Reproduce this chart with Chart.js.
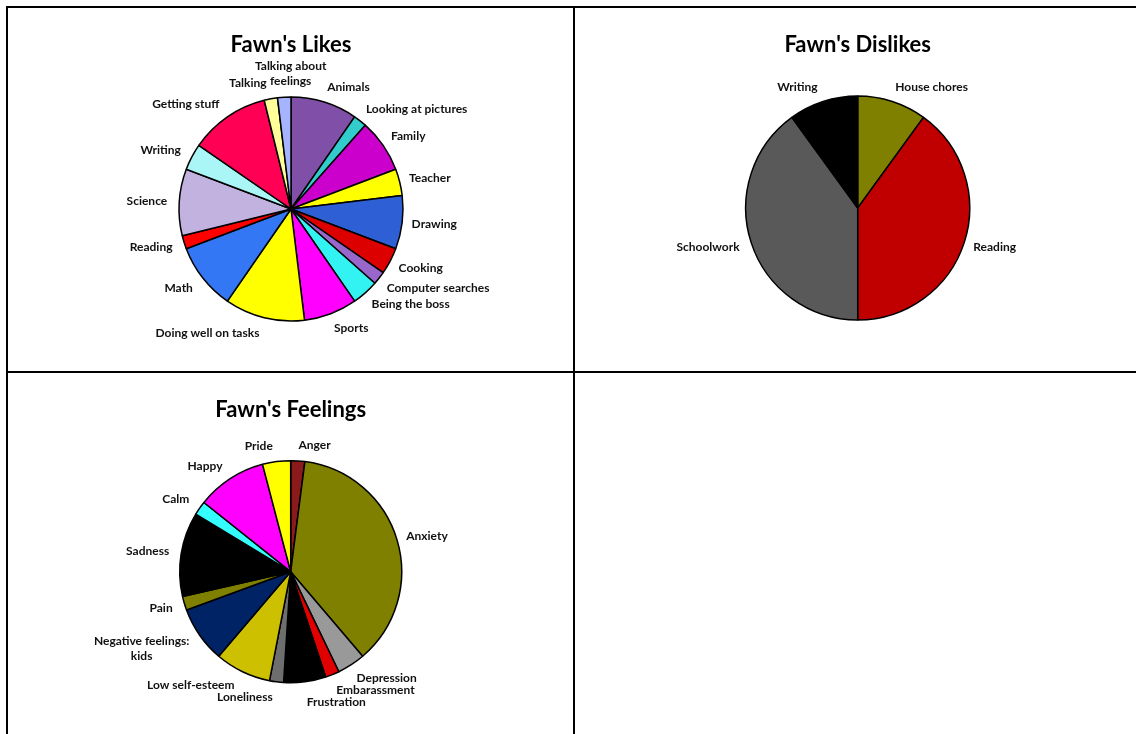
<!DOCTYPE html>
<html>
<head>
<meta charset="utf-8">
<script src="https://cdn.jsdelivr.net/npm/chart.js@4.4.1/dist/chart.umd.min.js"></script>
<style>
  html, body { margin: 0; padding: 0; background: #fff; }
  #page { position: relative; width: 1136px; height: 734px; overflow: hidden; }
  .line { position: absolute; background: #000; }
  canvas { position: absolute; }
</style>
</head>
<body>
<div id="page">
  <div class="line" style="left:6px;top:6px;width:1130px;height:2px"></div>
  <div class="line" style="left:6px;top:6px;width:2px;height:728px"></div>
  <div class="line" style="left:573px;top:6px;width:2px;height:728px"></div>
  <div class="line" style="left:6px;top:371px;width:1130px;height:2px"></div>
  <canvas id="likes" width="565" height="363" style="left:8px;top:8px"></canvas>
  <canvas id="dislikes" width="561" height="363" style="left:575px;top:8px"></canvas>
  <canvas id="feelings" width="565" height="361" style="left:8px;top:373px"></canvas>
</div>
<script>
  // Fawn's Likes
  const likesLabels = ['Animals', 'Looking at pictures', 'Family', 'Teacher', 'Drawing', 'Cooking',
    'Computer searches', 'Being the boss', 'Sports', 'Doing well on tasks', 'Math', 'Reading',
    'Science', 'Writing', 'Getting stuff', 'Talking', ['Talking about', 'feelings']];
  const likesValues = [5, 1, 4, 2, 4, 2, 1, 2, 4, 6, 5, 1, 5, 2, 6, 1, 1];
  const likesColors = ['#8050A8', '#33CCCC', '#CC00CC', '#FFFF00', '#2E5FD4', '#DD0000',
    '#9966CC', '#33F2F2', '#FF00FF', '#FFFF00', '#3377F5', '#FF0000',
    '#C2B2E0', '#AAF5F5', '#FF0055', '#FFFF99', '#A6B4FF'];

  // Fawn's Dislikes
  const dislikesLabels = ['House chores', 'Reading', 'Schoolwork', 'Writing'];
  const dislikesValues = [1, 4, 4, 1];
  const dislikesColors = ['#808000', '#C00000', '#595959', '#000000'];

  // Fawn's Feelings
  const feelingsLabels = ['Anger', 'Anxiety', 'Depression', 'Embarassment', 'Frustration', 'Loneliness',
    'Low self-esteem', ['Negative feelings:', 'kids'], 'Pain', 'Sadness', 'Calm', 'Happy', 'Pride'];
  const feelingsValues = [1, 18, 2, 1, 3, 1, 4, 4, 1, 6, 1, 5, 2];
  const feelingsColors = ['#8B1A1A', '#808000', '#999999', '#E00000', '#000000', '#6E6E6E',
    '#CCC000', '#002366', '#808000', '#000000', '#33FFFF', '#FF00FF', '#FFFF00'];

  const FONT = 'Lato, "Open Sans", sans-serif';
  const BORDER = 1.5;
  const TITLE_SIZE = 22;

  // boxes closer than 3px sideways count as touching
  function overlaps(a, b) {
    return a.x1 - 3 < b.x2 && b.x1 - 3 < a.x2 && a.y1 < b.y2 && b.y1 < a.y2;
  }
  function shift(boxes, mx, my) {
    return boxes.map(b => ({ x1: b.x1 + mx, y1: b.y1 + my, x2: b.x2 + mx, y2: b.y2 + my, text: b.text }));
  }

  // labels outside each slice, like Excel's data labels (nudged when they collide)
  const outsideLabels = {
    id: 'outsideLabels',
    afterDatasetsDraw(chart, args, opts) {
      const ctx = chart.ctx;
      const meta = chart.getDatasetMeta(0);
      const labels = chart.data.labels;
      const placed = [];
      ctx.save();
      ctx.font = opts.font;
      ctx.fillStyle = opts.color;
      ctx.textBaseline = 'middle';
      ctx.textAlign = 'center';
      meta.data.forEach((arc, i) => {
        const p = arc.getProps(['x', 'y', 'startAngle', 'endAngle', 'outerRadius'], true);
        const a = (p.startAngle + p.endAngle) / 2;
        const dx = Math.cos(a), dy = Math.sin(a);
        const r = p.outerRadius + opts.gap;
        const px = p.x + dx * r, py = p.y + dy * r;
        const lines = [].concat(labels[i]);
        const widths = lines.map(l => ctx.measureText(l).width);
        const w = Math.max(...widths);
        const h = (lines.length - 1) * opts.lineHeight + opts.size;
        let left;
        if (dx > 0.062) left = px;
        else if (dx < -0.062) left = px - w - opts.leftExtra;
        else left = px - w / 2;
        const mid = left + w / 2;
        const top = py + dy * h / 2 - h / 2;
        const base = lines.map((l, k) => ({
          x1: mid - widths[k] / 2, x2: mid + widths[k] / 2,
          y1: top + opts.lineHeight * k, y2: top + opts.lineHeight * k + opts.size, text: l
        }));
        // push outward or along the rim until it no longer hits an earlier label
        let boxes = base;
        for (let s = 0; s <= 60; s += 0.5) {
          const cand = [shift(base, dx * s, dy * s), shift(base, -dy * s, dx * s)];
          const ok = cand.find(c => !c.some(b => placed.some(q => overlaps(b, q))));
          if (ok) { boxes = ok; break; }
        }
        boxes.forEach(b => {
          placed.push(b);
          ctx.fillText(b.text, (b.x1 + b.x2) / 2, (b.y1 + b.y2) / 2);
        });
      });
      ctx.restore();
    }
  };

  // cell = canvas box on the page, centre/radius/titleY = where the pie sits on the page
  function makePie(id, title, labels, values, colors, cell, cx, cy, radius, titleY) {
    const side = 2 * radius + BORDER;
    const rx = cx - cell.left, ry = cy - cell.top;
    const lh = TITLE_SIZE * 1.2;
    const titleTop = titleY - cell.top - lh / 2;
    const titleBottom = (ry - side / 2) - (titleY - cell.top + lh / 2);
    return new Chart(document.getElementById(id), {
      type: 'pie',
      data: {
        labels: labels,
        datasets: [{
          data: values,
          backgroundColor: colors,
          borderColor: '#000',
          borderWidth: BORDER,
          hoverOffset: 0
        }]
      },
      options: {
        responsive: false,
        animation: false,
        layout: {
          padding: {
            top: 0,
            left: rx - side / 2,
            right: cell.width - rx - side / 2,
            bottom: cell.height - ry - side / 2
          }
        },
        plugins: {
          legend: { display: false },
          title: {
            display: true,
            text: title,
            color: '#000',
            font: { family: FONT, size: TITLE_SIZE, weight: 'bold' },
            padding: { top: titleTop, bottom: titleBottom }
          },
          outsideLabels: {
            font: 'bold 12px ' + FONT,
            size: 12,
            color: '#111',
            gap: 9.5,
            leftExtra: 2.5,
            lineHeight: 15.6
          }
        }
      },
      plugins: [outsideLabels]
    });
  }

  makePie('likes', "Fawn's Likes", likesLabels, likesValues, likesColors,
    { left: 8, top: 8, width: 565, height: 363 }, 291, 209, 112, 45);
  makePie('dislikes', "Fawn's Dislikes", dislikesLabels, dislikesValues, dislikesColors,
    { left: 575, top: 8, width: 561, height: 363 }, 857.7, 208, 112, 45);
  makePie('feelings', "Fawn's Feelings", feelingsLabels, feelingsValues, feelingsColors,
    { left: 8, top: 373, width: 565, height: 361 }, 290.7, 571.7, 111, 410);
</script>
</body>
</html>
